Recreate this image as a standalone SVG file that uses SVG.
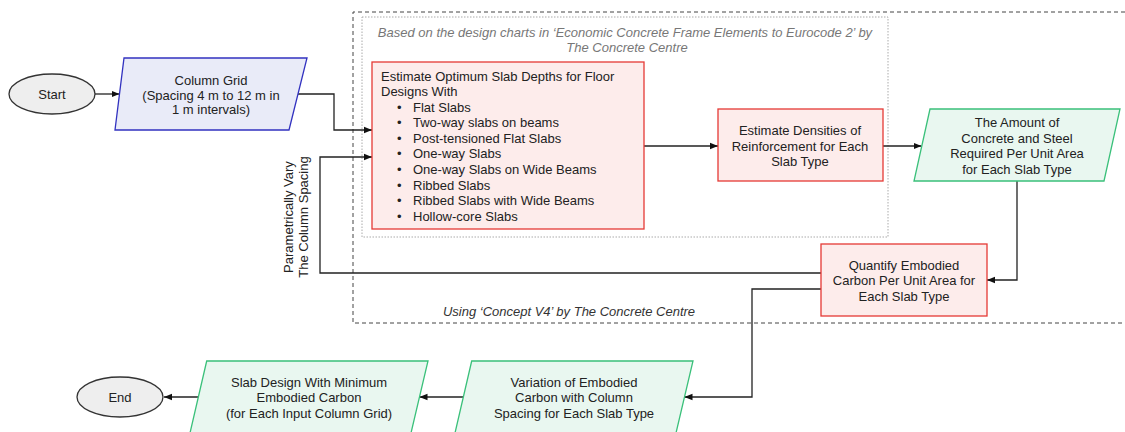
<svg xmlns="http://www.w3.org/2000/svg" width="1125" height="432" viewBox="0 0 1125 432">
<defs>
<marker id="ah" viewBox="0 0 8 8" refX="8" refY="4" markerWidth="8" markerHeight="8" markerUnits="userSpaceOnUse" orient="auto">
<path d="M0,0.8 L8,4 L0,7.2 Z" fill="#111"/>
</marker>
<style>
text{font-family:"Liberation Sans",Arial,sans-serif;font-size:13px;fill:#222}
.c{text-anchor:middle}
.cap{font-style:italic;fill:#777}
.cap2{font-style:italic;fill:#333}
.term{fill:#eeeeee;stroke:#333;stroke-width:1.3}
.blue{fill:#e9ebf8;stroke:#3232c0;stroke-width:1.3}
.red{fill:#fdeceb;stroke:#e53935;stroke-width:1.3}
.green{fill:#e9f7f0;stroke:#3ac07a;stroke-width:1.3}
.con{fill:none;stroke:#222;stroke-width:1.3;marker-end:url(#ah)}
.line{fill:none;stroke:#222;stroke-width:1.3}
</style>
</defs>
<rect width="1125" height="432" fill="#fff"/>
<g id="frames">
<path d="M1125,12 H353 V323 H1125" fill="none" stroke="#444" stroke-width="1" stroke-dasharray="4,3"/>
<rect x="362" y="17" width="526" height="220" fill="none" stroke="#aaa" stroke-width="1" stroke-dasharray="1.5,1.5"/>
<text class="c cap" x="625" y="36.5">Based on the design charts in ‘Economic Concrete Frame Elements to Eurocode 2’ by</text>
<text class="c cap" x="627" y="52">The Concrete Centre</text>
<text class="c cap2" x="569" y="316">Using ‘Concept V4’ by The Concrete Centre</text>
</g>
<g id="connectors">
<path class="con" d="M95,94 H119.5"/>
<path class="con" d="M298,94 H334 V130 H372"/>
<path class="con" d="M644,146 H718"/>
<path class="con" d="M883,146 H921.5"/>
<path class="con" d="M1017,181 V280 H987"/>
<path class="con" d="M821,273 H320 V157 H372"/>
<path class="con" d="M821,289 H752 V397 H684.5"/>
<path class="con" d="M463,397 H419.5"/>
<path class="con" d="M198,397 H164"/>
<text transform="rotate(-90 296 217)" class="c"><tspan x="296" y="214">Parametrically Vary</tspan><tspan x="296" y="229">The Column Spacing</tspan></text>
</g>
<g id="start">
<ellipse class="term" cx="52" cy="94" rx="43" ry="20"/>
<text class="c" x="52" y="99">Start</text>
</g>
<g id="column-grid">
<polygon class="blue" points="124,58 307,58 289,130 115,130"/>
<text class="c" x="211" y="85">Column Grid</text>
<text class="c" x="211" y="100">(Spacing 4 m to 12 m in</text>
<text class="c" x="211" y="114">1 m intervals)</text>
</g>
<g id="estimate-depths">
<rect class="red" x="372" y="62" width="272" height="167"/>
<text x="381" y="80.5">Estimate Optimum Slab Depths for Floor</text>
<text x="381" y="96">Designs With</text>
<g>
<text x="397" y="111.6">•</text><text x="413" y="111.6">Flat Slabs</text>
<text x="397" y="127.2">•</text><text x="413" y="127.2">Two-way slabs on beams</text>
<text x="397" y="142.8">•</text><text x="413" y="142.8">Post-tensioned Flat Slabs</text>
<text x="397" y="158.4">•</text><text x="413" y="158.4">One-way Slabs</text>
<text x="397" y="174">•</text><text x="413" y="174">One-way Slabs on Wide Beams</text>
<text x="397" y="189.6">•</text><text x="413" y="189.6">Ribbed Slabs</text>
<text x="397" y="205.2">•</text><text x="413" y="205.2">Ribbed Slabs with Wide Beams</text>
<text x="397" y="220.8">•</text><text x="413" y="220.8">Hollow-core Slabs</text>
</g>
</g>
<g id="estimate-densities">
<rect class="red" x="718" y="109" width="165" height="72"/>
<text class="c" x="800" y="135">Estimate Densities of</text>
<text class="c" x="800" y="150.5">Reinforcement for Each</text>
<text class="c" x="800" y="166">Slab Type</text>
</g>
<g id="amount">
<polygon class="green" points="930,109 1120,109 1104,181 914,181"/>
<text class="c" x="1017" y="127">The Amount of</text>
<text class="c" x="1017" y="142.5">Concrete and Steel</text>
<text class="c" x="1017" y="158">Required Per Unit Area</text>
<text class="c" x="1017" y="173.5">for Each Slab Type</text>
</g>
<g id="quantify">
<rect class="red" x="821" y="244" width="166" height="72"/>
<text class="c" x="904" y="269.5">Quantify Embodied</text>
<text class="c" x="904" y="285">Carbon Per Unit Area for</text>
<text class="c" x="904" y="301">Each Slab Type</text>
</g>
<g id="variation">
<polygon class="green" points="471.7,361 693,361 676,433 455,433"/>
<text class="c" x="574" y="386.5">Variation of Embodied</text>
<text class="c" x="574" y="402">Carbon with Column</text>
<text class="c" x="574" y="417.5">Spacing for Each Slab Type</text>
</g>
<g id="slab-design">
<polygon class="green" points="206.7,361 428,361 411,433 190,433"/>
<text class="c" x="309" y="386.5">Slab Design With Minimum</text>
<text class="c" x="309" y="402">Embodied Carbon</text>
<text class="c" x="309" y="417.5">(for Each Input Column Grid)</text>
</g>
<g id="end">
<ellipse class="term" cx="120" cy="397" rx="43" ry="20"/>
<text class="c" x="120" y="402">End</text>
</g>
</svg>
